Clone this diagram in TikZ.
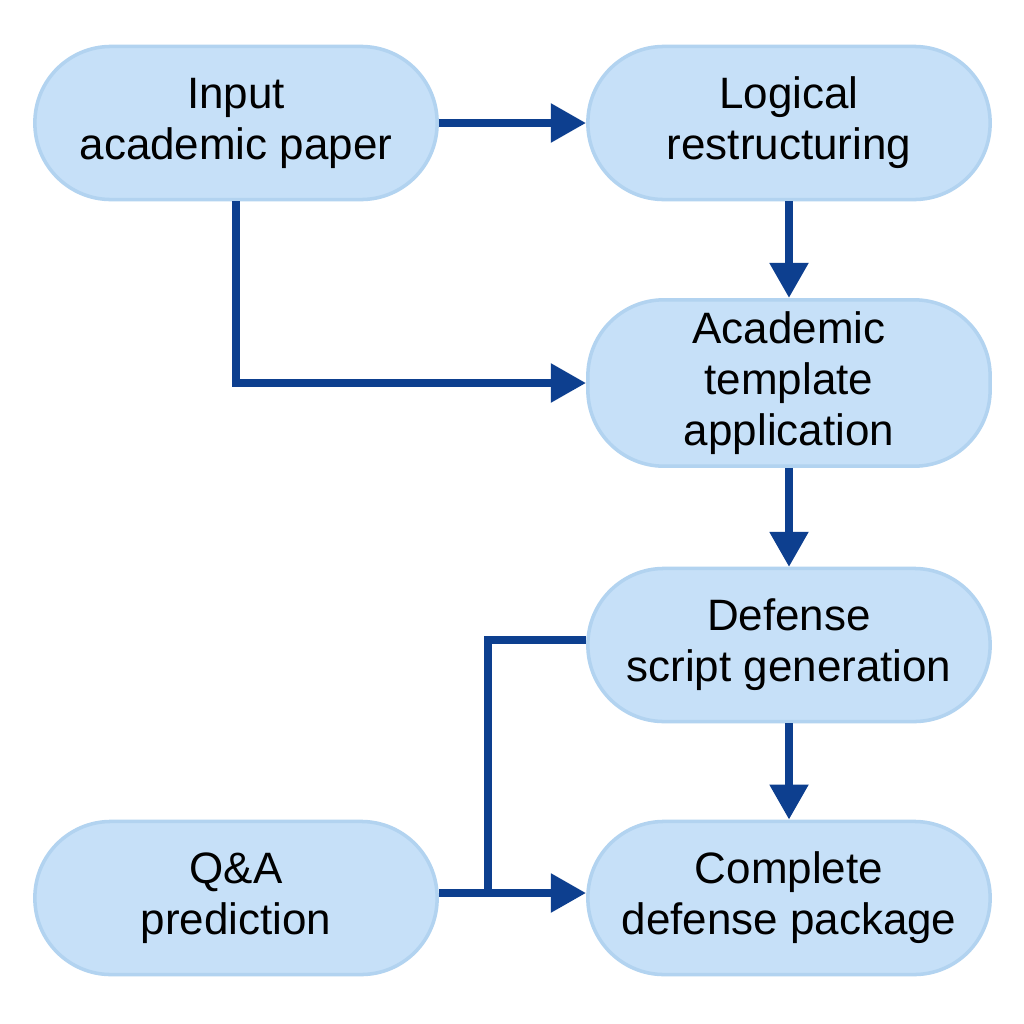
\documentclass[tikz,border=0pt]{standalone}
\usepackage{fontspec}
\setmainfont{Liberation Sans}
\usetikzlibrary{arrows.meta}
\definecolor{boxfill}{HTML}{C6E0F8}
\definecolor{boxline}{HTML}{B2D3F0}
\definecolor{arr}{HTML}{0D3F8F}
\begin{document}
\begin{tikzpicture}[x=0.01cm,y=-0.01cm,
  box/.style={rounded corners=75\pgflinewidth, draw=boxline, line width=1pt, fill=boxfill,
    minimum width=4.02cm, minimum height=1.53cm, align=center,
    font=\fontsize{12.5}{14.5}\selectfont},
  con/.style={draw=arr, line width=2.4pt, -{Triangle[length=10pt,width=10.5pt]}},
  ln/.style={draw=arr, line width=2.4pt}]
\useasboundingbox (0,0) rectangle (1024,1024);
\fill[white] (0,0) rectangle (1024,1024);
\tikzset{box/.append style={rounded corners=0.76cm}}
\node[box] (in) at (236,123) {Input\\academic paper};
\node[box] (lo) at (789,123) {Logical\\restructuring};
\node[box, minimum height=1.63cm] (ac) at (789,383) {Academic\\template\\application};
\node[box] (de) at (789,645) {Defense\\script generation};
\node[box] (qa) at (236,898) {Q\&A\\prediction};
\node[box] (co) at (789,898) {Complete\\defense package};
\coordinate (j) at (488,893);
\draw[con] (in.east) -- (lo.west);
\draw[con] (lo.south) -- (ac.north);
\draw[con] (in.south) |- (ac.west);
\draw[con] (ac.south) -- (de.south |- 0,567);
\draw[con] (de.south) -- (co.north);
\draw[con] (de.west |- 0,640) -| (j) -- (co.west |- j);
\draw[ln] (qa.east |- j) -- (j);
\end{tikzpicture}
\end{document}
